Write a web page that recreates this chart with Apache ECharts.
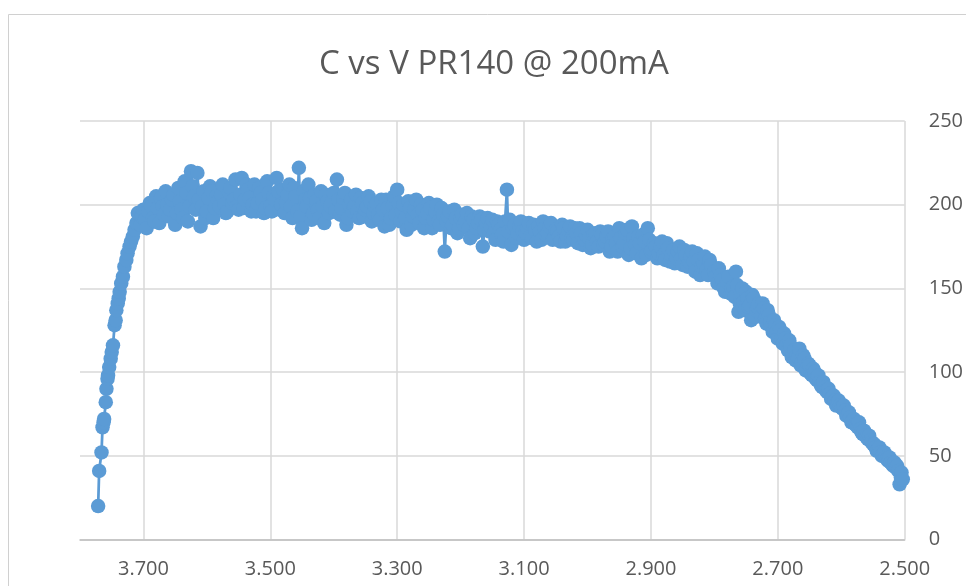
<html>

<head>
    <script src="https://cdn.jsdelivr.net/npm/echarts@6/dist/echarts.min.js"></script>
</head>
<style>
    body {
        margin: 0;
        background: #fff;
    }

    #chart {
        width: 966px;
        height: 586px;
    }
</style>

<body>
    <div id="chart"></div>
    <script>
        // [voltage, capacity] pairs
        const riseData = [
            [3.7714, 20], [3.7698, 41], [3.7661, 52], [3.7645, 67], [3.7628, 70], [3.7620, 72],
            [3.7594, 82], [3.7583, 90], [3.7566, 96], [3.7558, 98], [3.7540, 103], [3.7516, 108],
            [3.7500, 112], [3.7480, 116], [3.7455, 128], [3.7438, 131], [3.7427, 137], [3.7405, 141],
            [3.7390, 144], [3.7375, 148], [3.7350, 153], [3.7323, 157], [3.7300, 163], [3.7270, 167],
            [3.7250, 171], [3.7219, 175], [3.7195, 178], [3.7167, 181], [3.7140, 185], [3.7110, 189],
            [3.7089, 195]
        ]
        const plateauData = [
            [3.705, 188], [3.700, 197], [3.695, 186], [3.690, 201], [3.685, 192], [3.680, 205],
            [3.675, 189], [3.670, 199], [3.665, 208], [3.660, 193], [3.655, 203], [3.650, 188],
            [3.645, 210], [3.640, 197], [3.635, 214], [3.630, 190], [3.625, 220], [3.620, 205],
            [3.615, 219], [3.610, 187], [3.605, 208], [3.600, 196], [3.595, 211], [3.590, 192],
            [3.585, 205], [3.580, 199], [3.575, 212], [3.570, 195], [3.565, 207], [3.560, 201],
            [3.555, 215], [3.550, 197], [3.545, 216], [3.540, 203], [3.535, 209], [3.530, 196],
            [3.525, 212], [3.520, 201], [3.515, 207], [3.510, 195], [3.505, 214], [3.500, 199],
            [3.495, 205], [3.490, 216], [3.485, 197], [3.480, 209], [3.475, 201], [3.470, 212],
            [3.465, 192], [3.460, 205], [3.455, 222], [3.450, 186], [3.445, 203], [3.440, 212],
            [3.435, 191], [3.430, 206], [3.425, 197], [3.420, 208], [3.415, 189], [3.410, 202],
            [3.405, 199], [3.400, 207], [3.395, 215], [3.390, 194], [3.385, 204], [3.380, 188],
            [3.375, 200], [3.370, 196], [3.365, 206], [3.360, 192], [3.355, 201], [3.350, 197],
            [3.345, 205], [3.340, 190], [3.335, 199], [3.330, 194], [3.325, 203], [3.320, 187],
            [3.315, 198], [3.310, 192], [3.305, 205], [3.300, 209], [3.295, 190], [3.290, 200],
            [3.285, 185], [3.280, 198], [3.275, 193], [3.270, 203], [3.265, 189], [3.260, 197],
            [3.255, 192], [3.250, 201], [3.245, 186], [3.240, 196], [3.235, 190], [3.230, 198],
            [3.225, 172], [3.220, 193], [3.215, 186], [3.210, 197], [3.205, 183], [3.200, 192],
            [3.195, 188], [3.190, 195], [3.185, 180], [3.180, 191], [3.175, 186], [3.170, 193],
            [3.165, 175], [3.160, 189], [3.155, 184], [3.150, 191], [3.145, 179], [3.140, 188],
            [3.135, 182], [3.130, 190], [3.127, 209], [3.125, 184], [3.120, 176], [3.115, 188],
            [3.110, 183], [3.105, 190], [3.100, 179]
        ]
        const plateauExtra = [
            [3.7025, 193], [3.6975, 191], [3.6925, 196], [3.6875, 199], [3.6825, 190], [3.6775, 198],
            [3.6725, 204], [3.6675, 194], [3.6625, 200], [3.6575, 197], [3.6525, 206], [3.6475, 195],
            [3.6425, 202], [3.6375, 192], [3.6325, 207], [3.6275, 199], [3.6225, 211], [3.6175, 197],
            [3.6125, 203], [3.6075, 199], [3.6025, 192], [3.5975, 204], [3.5925, 208], [3.5875, 198],
            [3.5825, 202], [3.5775, 206], [3.5725, 200], [3.5675, 196], [3.5625, 210], [3.5575, 203],
            [3.5525, 199], [3.5475, 206], [3.5425, 198], [3.5375, 212], [3.5325, 204], [3.5275, 200],
            [3.5225, 196], [3.5175, 210], [3.5125, 203], [3.5075, 198], [3.5025, 207], [3.4975, 196],
            [3.4925, 203], [3.4875, 208], [3.4825, 200], [3.4775, 195], [3.4725, 206], [3.4675, 199],
            [3.4625, 210], [3.4575, 196], [3.4525, 193], [3.4475, 208], [3.4425, 199], [3.4375, 204],
            [3.4325, 195], [3.4275, 202], [3.4225, 192], [3.4175, 199], [3.4125, 206], [3.4075, 195],
            [3.4025, 202], [3.3975, 196], [3.3925, 203], [3.3875, 198], [3.3825, 207], [3.3775, 192],
            [3.3725, 203], [3.3675, 199], [3.3625, 196], [3.3575, 204], [3.3525, 193], [3.3475, 199],
            [3.3425, 202], [3.3375, 195], [3.3325, 201], [3.3275, 191], [3.3225, 197], [3.3175, 203],
            [3.3125, 188], [3.3075, 199], [3.3025, 194], [3.2975, 201], [3.2925, 196], [3.2875, 192],
            [3.2825, 202], [3.2775, 188], [3.2725, 197], [3.2675, 194], [3.2625, 200], [3.2575, 186],
            [3.2525, 195], [3.2475, 198], [3.2425, 191], [3.2375, 200], [3.2325, 188], [3.2275, 194],
            [3.2225, 190], [3.2175, 196], [3.2125, 188], [3.2075, 192], [3.2025, 186], [3.1975, 194],
            [3.1925, 190], [3.1875, 186], [3.1825, 193], [3.1775, 183], [3.1725, 189], [3.1675, 191],
            [3.1625, 185], [3.1575, 192], [3.1525, 187], [3.1475, 183], [3.1425, 190], [3.1375, 185],
            [3.1325, 178], [3.1225, 191], [3.1175, 186], [3.1125, 180], [3.1075, 187], [3.1025, 184]
        ]
        const fadeData = [
            [3.095, 186], [3.090, 181], [3.085, 188], [3.080, 178], [3.075, 184], [3.070, 190],
            [3.065, 182], [3.060, 187], [3.055, 179], [3.050, 185], [3.045, 181], [3.040, 188],
            [3.035, 178], [3.030, 184], [3.025, 180], [3.020, 186], [3.015, 177], [3.010, 183],
            [3.005, 179], [3.000, 185], [2.995, 174], [2.990, 182], [2.985, 178], [2.980, 184],
            [2.975, 176], [2.970, 181], [2.965, 172], [2.960, 180], [2.955, 177], [2.950, 186],
            [2.945, 175], [2.940, 183], [2.935, 170], [2.930, 187], [2.925, 176], [2.920, 181],
            [2.915, 168], [2.910, 178], [2.905, 186], [2.900, 172], [2.895, 177], [2.890, 168],
            [2.885, 175], [2.880, 170], [2.875, 177], [2.870, 166], [2.865, 173], [2.860, 168],
            [2.855, 175], [2.850, 164], [2.845, 170], [2.840, 166], [2.835, 172], [2.830, 160],
            [2.825, 167], [2.820, 163], [2.815, 169], [2.810, 158], [2.805, 164]
        ]
        const fadeExtra = [
            [3.0975, 183], [3.0925, 189], [3.0875, 180], [3.0825, 185], [3.0775, 187], [3.0725, 179],
            [3.0675, 186], [3.0625, 183], [3.0575, 189], [3.0525, 180], [3.0475, 184], [3.0425, 178],
            [3.0375, 186], [3.0325, 181], [3.0275, 187], [3.0225, 179], [3.0175, 183], [3.0125, 186],
            [3.0075, 176], [3.0025, 182], [2.9975, 180], [2.9925, 176], [2.9875, 183], [2.9825, 175],
            [2.9775, 182], [2.9725, 178], [2.9675, 184], [2.9625, 175], [2.9575, 181], [2.9525, 172],
            [2.9475, 180], [2.9425, 177], [2.9375, 185], [2.9325, 174], [2.9275, 180], [2.9225, 171],
            [2.9175, 177], [2.9125, 182], [2.9075, 170], [2.9025, 179], [2.8975, 173], [2.8925, 175],
            [2.8875, 171], [2.8825, 178], [2.8775, 167], [2.8725, 174], [2.8675, 170], [2.8625, 165],
            [2.8575, 172], [2.8525, 168], [2.8475, 173], [2.8425, 163], [2.8375, 169], [2.8325, 166],
            [2.8275, 171], [2.8225, 158], [2.8175, 165], [2.8125, 161], [2.8075, 167]
        ]
        const kneeData = [
            [2.800, 160], [2.795, 153], [2.790, 158], [2.785, 150], [2.780, 154], [2.775, 147],
            [2.770, 151], [2.766, 160], [2.762, 136], [2.758, 147], [2.754, 142], [2.750, 148],
            [2.746, 139], [2.742, 131], [2.738, 144], [2.734, 137], [2.730, 141], [2.726, 133],
            [2.722, 138], [2.718, 129], [2.714, 134], [2.710, 127], [2.706, 131], [2.702, 124],
            [2.698, 127], [2.694, 120], [2.690, 123], [2.686, 116], [2.682, 119], [2.678, 109],
            [2.674, 113], [2.670, 110], [2.666, 114], [2.662, 106], [2.658, 108], [2.654, 102],
            [2.650, 104], [2.646, 98], [2.642, 100], [2.638, 95], [2.634, 94], [2.630, 91],
            [2.626, 91], [2.622, 88], [2.618, 87], [2.614, 85], [2.610, 83], [2.606, 82],
            [2.602, 80], [2.598, 78], [2.594, 77], [2.590, 74], [2.586, 73], [2.582, 71],
            [2.578, 69], [2.574, 67], [2.570, 66], [2.566, 63], [2.562, 62], [2.558, 60],
            [2.554, 59], [2.550, 57], [2.546, 55], [2.542, 54], [2.538, 52], [2.534, 51],
            [2.530, 49], [2.526, 47], [2.522, 46], [2.518, 44], [2.516, 46], [2.514, 43],
            [2.510, 41], [2.508, 33], [2.505, 40], [2.503, 36]
        ]
        const kneeExtra = [
            [2.798, 157], [2.793, 162], [2.788, 155], [2.783, 148], [2.778, 157], [2.773, 150],
            [2.768, 145], [2.764, 152], [2.760, 141], [2.756, 150], [2.752, 137], [2.748, 144],
            [2.744, 140], [2.740, 146], [2.736, 133], [2.732, 139], [2.728, 135], [2.724, 141],
            [2.720, 132], [2.716, 137], [2.712, 130], [2.708, 124], [2.704, 128], [2.700, 120],
            [2.696, 125], [2.692, 117], [2.688, 120], [2.684, 113], [2.680, 116], [2.676, 111],
            [2.672, 107], [2.668, 109], [2.664, 104], [2.660, 110], [2.656, 101], [2.652, 105],
            [2.648, 99], [2.644, 102], [2.640, 96], [2.636, 98], [2.632, 92], [2.628, 94],
            [2.624, 89], [2.620, 90], [2.616, 84], [2.612, 86], [2.608, 80], [2.604, 83],
            [2.600, 79], [2.596, 80], [2.592, 74], [2.588, 76], [2.584, 70], [2.580, 72],
            [2.576, 68], [2.572, 70], [2.568, 64], [2.564, 65], [2.560, 61], [2.556, 62],
            [2.552, 58], [2.548, 57], [2.544, 53], [2.540, 55], [2.536, 50], [2.532, 52],
            [2.528, 48], [2.524, 49], [2.520, 45], [2.512, 44], [2.506, 37]
        ]

        // put everything in discharge order (high voltage first)
        const curve = riseData.concat(plateauData, plateauExtra, fadeData, fadeExtra, kneeData, kneeExtra)
            .sort((a, b) => b[0] - a[0])

        const grey = '#595959'
        const labelFont = 20

        const option = {
            animation: false,
            backgroundColor: '#fff',
            title: {
                text: 'C vs V PR140 @ 200mA',
                left: 314,
                top: 33,
                textStyle: {
                    fontFamily: 'Open Sans',
                    fontSize: 33,
                    fontWeight: 'normal',
                    color: grey
                }
            },
            graphic: [{
                type: 'rect',
                shape: { x: 8.5, y: 14.5, width: 1000, height: 600 },
                style: { fill: 'none', stroke: '#d0d0d0', lineWidth: 1 },
                silent: true
            }],
            grid: {
                left: 80,
                right: 55,
                top: 121,
                bottom: 46
            },
            xAxis: {
                type: 'value',
                inverse: true,
                min: 2.5,
                max: 3.8,
                interval: 0.2,
                axisLine: { show: true, lineStyle: { color: '#bfbfbf', width: 1.5 } },
                axisTick: { show: false },
                axisLabel: {
                    color: grey,
                    fontFamily: 'Open Sans',
                    fontSize: labelFont,
                    margin: 14,
                    showMaxLabel: false,
                    formatter: v => v.toFixed(3)
                },
                splitLine: {
                    show: true,
                    showMaxLine: false,
                    lineStyle: { color: '#d9d9d9', width: 1.5 }
                }
            },
            yAxis: {
                type: 'value',
                position: 'right',
                min: 0,
                max: 250,
                interval: 50,
                axisLine: { show: false },
                axisTick: { show: false },
                axisLabel: {
                    color: grey,
                    fontFamily: 'Open Sans',
                    fontSize: labelFont,
                    margin: 24
                },
                splitLine: { lineStyle: { color: '#d9d9d9', width: 1.5 } }
            },
            series: [{
                type: 'line',
                data: curve,
                symbol: 'circle',
                symbolSize: 14.5,
                showAllSymbol: true,
                itemStyle: { color: '#5b9bd5' },
                lineStyle: { color: '#5b9bd5', width: 2.75 }
            }]
        }

        const myChart = echarts.init(document.getElementById('chart'))
        myChart.setOption(option)
    </script>
</body>

</html>
